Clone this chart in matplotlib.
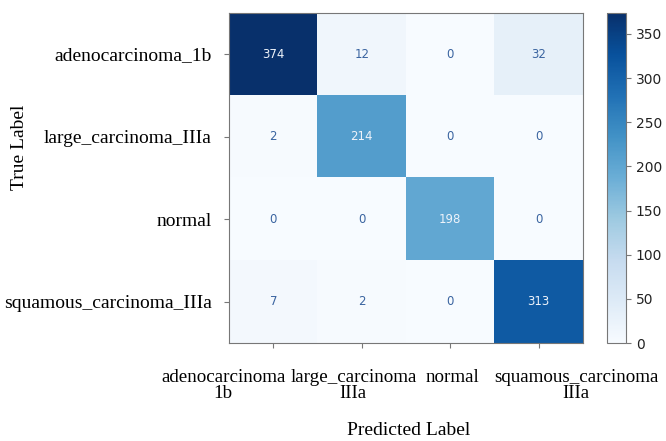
import numpy as np
import matplotlib
matplotlib.use("Agg")
import matplotlib.pyplot as plt
import matplotlib.transforms as mtrans

# confusion matrix values
classes = ["adenocarcinoma_1b", "large_carcinoma_IIIa", "normal", "squamous_carcinoma_IIIa"]
xlabels = ["adenocarcinoma\n1b", "large_carcinoma\nIIIa", "normal", "squamous_carcinoma\nIIIa"]
cm = np.array([[374, 12, 0, 32],
               [2, 214, 0, 0],
               [0, 0, 198, 0],
               [7, 2, 0, 313]])
cbar_ticks = [0, 50, 100, 150, 200, 250, 300, 350]

serif = "Liberation Serif"
edge = "#777777"

fig = plt.figure(figsize=(6.66, 4.41), dpi=100)
ax = fig.add_axes([0.344, 0.222, 0.531, 0.749])
cax = fig.add_axes([0.911, 0.222, 0.029, 0.749])

im = ax.imshow(cm, cmap="Blues", vmin=0, vmax=cm.max(), aspect="auto")

thresh = cm.max() / 2.0
for i in range(cm.shape[0]):
    for j in range(cm.shape[1]):
        col = "#eef3fa" if cm[i, j] > thresh else "#3a64a0"
        ax.text(j, i, str(cm[i, j]), ha="center", va="center",
                fontsize=8.5, color=col, family="DejaVu Sans")

ax.set_xticks(range(len(classes)))
ax.set_yticks(range(len(classes)))
ax.set_xticklabels(xlabels, family=serif, fontsize=13.7, linespacing=0.95)
ax.set_yticklabels(classes, family=serif, fontsize=14)
ax.tick_params(colors=edge, labelcolor="black", length=3.5)
ax.tick_params(axis="x", pad=15)
ax.tick_params(axis="y", pad=9)

# labels in the reference sit off-centre from their ticks
shifts = [-36, -6, 2, 27]
for lab, dx in zip(ax.get_xticklabels(), shifts):
    lab.set_transform(lab.get_transform() + mtrans.ScaledTranslation(dx / 72, 0, fig.dpi_scale_trans))

ax.set_xlabel("Predicted Label", family=serif, fontsize=14)
ax.set_ylabel("True Label", family=serif, fontsize=14)
ax.xaxis.set_label_coords(0.508, -0.238)
ax.yaxis.set_label_coords(-0.568, 0.594)
for s in ax.spines.values():
    s.set_color(edge)

cb = fig.colorbar(im, cax=cax, ticks=cbar_ticks)
cb.outline.set_edgecolor(edge)
cb.ax.tick_params(labelsize=10, colors=edge, labelcolor="#222222", length=3.5)

fig.savefig("out.png", dpi=100)
